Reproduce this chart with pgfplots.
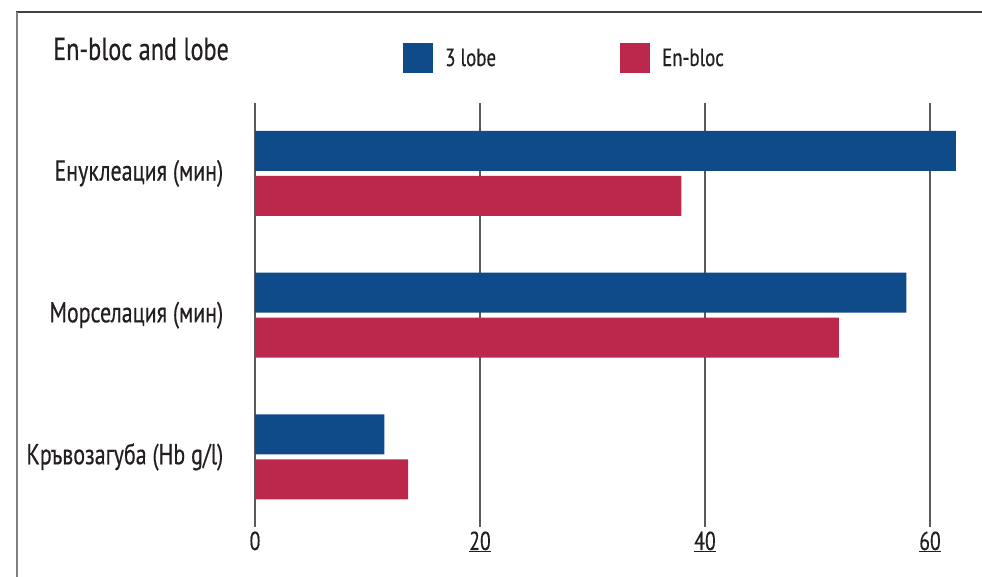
\documentclass[border=0pt]{standalone}
\usepackage{fontspec}
\setmainfont{PT Sans}[FakeStretch=0.76, FakeBold=0.4]
\usepackage{pgfplots}
\pgfplotsset{compat=1.18}

\definecolor{lobeblue}{HTML}{0F4A89}
\definecolor{blocred}{HTML}{BB284B}
\definecolor{gridgray}{HTML}{5A5A5A}
\definecolor{txt}{HTML}{231F20}

\begin{document}
\begin{tikzpicture}[x=1bp,y=1bp]
\useasboundingbox (0,0) rectangle (982,577);

% frame: top and left edge only
\draw[line width=1.6bp, txt!85] (16,565) -- (982,565);
\draw[line width=1.4bp, gray] (17,565) -- (17,0);

\node[anchor=base west, inner sep=0, font=\fontsize{32}{36}\selectfont, text=txt]
  at (53,517) {En-bloc and lobe};

\begin{axis}[
  at={(255bp,50bp)}, anchor=south west,
  scale only axis,
  width=720bp, height=424bp,
  xmin=0, xmax=64,
  ymin=0.506, ymax=3.497,
  xbar,
  bar width=40bp,
  axis line style={draw=none},
  tick style={draw=none},
  xmajorgrids,
  major grid style={line width=1.5bp, gridgray},
  xtick={0,20,40,60},
  xticklabels={0,\underline{20},\underline{40},\underline{60}},
  ytick={1,2,3},
  yticklabels={Кръвозагуба (Hb g/l),Морселация (мин),Енуклеация (мин)},
  xticklabel style={font=\fontsize{26}{28}\selectfont, text=txt, yshift=-1bp},
  yticklabel style={font=\fontsize{29}{32}\selectfont, text=txt, xshift=-24bp},
  legend columns=2,
  legend style={
    at={(0.2056,1.106)}, anchor=west,
    draw=none, fill=none, inner sep=0pt,
    font=\fontsize{25}{28}\selectfont, text=txt,
    /tikz/every odd column/.append style={column sep=10bp},
    /tikz/every even column/.append style={column sep=122bp},
  },
  legend image code/.code={\fill[#1] (0bp,-15bp) rectangle (30bp,15bp);},
]
\addplot[fill=lobeblue, draw=none, bar shift=22.5bp]
  coordinates {(11.5,1) (57.9,2) (62.3,3)};
\addplot[fill=blocred, draw=none, bar shift=-22.5bp]
  coordinates {(13.6,1) (51.9,2) (37.9,3)};
\legend{3 lobe, En-bloc}
\end{axis}
\end{tikzpicture}
\end{document}
